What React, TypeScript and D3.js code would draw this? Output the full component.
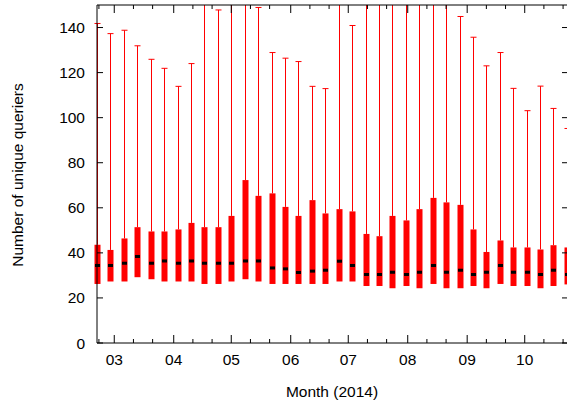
import React from "react";
import * as d3 from "d3";

const maxV = [141.8,137.3,138.8,131.9,125.9,121.9,113.9,124,165,147.8,160,170,148.9,128.9,126.4,124.9,113.9,112.9,160,140.9,155,165,160,155,160,170,152,144.9,135.7,123,128.9,113,103.1,114,104.1,95.2];
const q3V = [43.6,41.3,46.4,51.4,49.5,49.5,50.4,53.3,51.4,51.4,56.4,72.3,65.3,66.4,60.4,56.4,63.4,57.5,59.4,58.4,48.4,47.4,56.4,54.4,59.4,64.4,62.4,61.3,50.4,40.4,45.5,42.4,42.4,41.5,43.4,42.4];
const medV = [34.4,34.4,35.4,38.4,35.4,36.4,35.4,36.4,35.4,35.4,35.4,36.4,36.4,33.3,32.9,31.3,31.9,32.3,36.3,34.4,30.4,30.4,31.4,30.4,31.4,34.4,31.4,32.3,30.4,31.4,34.4,31.4,31.4,30.4,32.3,30.4];
const q1V = [26.2,27.3,27.3,29.2,28.3,27.3,27.3,27.3,26.2,26.2,27.3,28.3,27.3,26.2,26.2,26.2,26.2,26.2,27.3,27.3,25.3,25.3,24.3,25.3,24.3,26.2,24.3,24.3,25.3,24.3,26.2,25.3,25.3,24.3,25.3,26];
const yTicks = [0,20,40,60,80,100,120,140];
const monthLabels = ["03","04","05","06","07","08","09","10"];

export default function App() {
  const W = 567, H = 405;
  const top = 5, bottom = 343, left = 97, right = 568;
  const y = d3.scaleLinear().domain([0, 150]).range([bottom, top]);
  const start = new Date(2014, 1, 20);
  const end = new Date(2014, 9, 22);
  const x = d3.scaleTime().domain([start, end]).range([left, 565]);
  const boxDates = maxV.map((_, i) => d3.timeDay.offset(start, 7 * i));
  const minorTicks = d3.timeDay.range(new Date(2014, 1, 21), new Date(2014, 9, 25)).filter(d => [1, 11, 21].includes(d.getDate()));
  const months = monthLabels.map((_, i) => new Date(2014, 2 + i, 1));
  const font = "'Liberation Sans', Arial, sans-serif";
  return (
    <svg width={W} height={H} style={{ position: "absolute", left: 0, top: 0 }} fontFamily={font}>
      <defs>
        <clipPath id="cp"><rect x={0} y={top} width={W} height={bottom - top} /></clipPath>
      </defs>
      <g clipPath="url(#cp)">
        {boxDates.map((d, i) => {
          const cx = Math.round(x(d)) + 0.5;
          return (
            <g key={i}>
              <line x1={cx} x2={cx} y1={y(maxV[i])} y2={y(q3V[i])} stroke="#ff0000" strokeWidth={1} />
              <line x1={cx - 3} x2={cx + 3} y1={y(maxV[i])} y2={y(maxV[i])} stroke="#ff0000" strokeWidth={1} />
              <rect x={cx - 3} y={y(q3V[i])} width={6} height={y(q1V[i]) - y(q3V[i])} fill="#ff0000" />
              <rect x={cx - 2.5} y={y(medV[i]) - 1.5} width={5} height={3} fill="#000" />
            </g>
          );
        })}
      </g>
      <g stroke="#000" strokeWidth={1}>
        <line x1={left} x2={left} y1={top} y2={bottom} />
        <line x1={left} x2={right} y1={bottom} y2={bottom} />
        <line x1={left} x2={right} y1={top} y2={top} />
        <line x1={right} x2={right} y1={top} y2={bottom} />
        {yTicks.map(t => (
          <g key={t}>
            <line x1={left} x2={left + 6} y1={y(t)} y2={y(t)} />
            <line x1={right - 6} x2={right} y1={y(t)} y2={y(t)} />
          </g>
        ))}
        {minorTicks.map((d, i) => {
          const len = d.getDate() === 1 ? 8 : 4;
          return (
            <g key={i}>
              <line x1={x(d)} x2={x(d)} y1={bottom} y2={bottom - len} />
              <line x1={x(d)} x2={x(d)} y1={top} y2={top + len} />
            </g>
          );
        })}
      </g>
      {yTicks.map(t => (
        <text key={t} x={85} y={y(t) + 5.5} textAnchor="end" fontSize={15.5}>{t}</text>
      ))}
      {months.map((d, i) => (
        <text key={i} x={x(d)} y={365} textAnchor="middle" fontSize={15.5}>{monthLabels[i]}</text>
      ))}
      <text x={332} y={397} textAnchor="middle" fontSize={15.5}>Month (2014)</text>
      <text transform={`translate(23,175) rotate(-90)`} textAnchor="middle" fontSize={15.5}>Number of unique queriers</text>
    </svg>
  );
}
